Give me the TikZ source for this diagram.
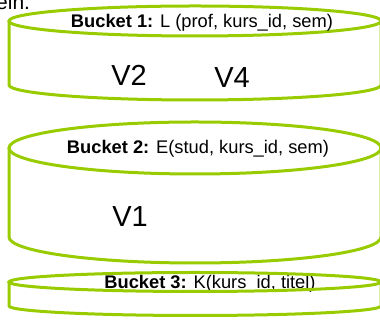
\documentclass[tikz,border=0pt]{standalone}
\usepackage{fontspec}
\setmainfont{Liberation Sans}
\definecolor{bucketgreen}{RGB}{153,204,0}
\begin{document}
\begin{tikzpicture}[x=1pt,y=1pt,
  bucket/.style={draw=bucketgreen,line width=3pt},
  title/.style={font=\fontsize{18.3}{20}\selectfont},
  view/.style={font=\fontsize{29}{32}\selectfont}]
\useasboundingbox (0,0) rectangle (380,320);
\node[anchor=base west,inner sep=0pt,font=\fontsize{21}{23}\selectfont] (ein) at (-4,310) {ein.};
% bucket 1
\draw[bucket] (195,299) ellipse [x radius=186,y radius=15];
\draw[bucket] (9,299) -- (9,235) arc[start angle=180,end angle=360,x radius=186,y radius=15] -- (381,299);
\node[title] (b1) at (202,297) {\textbf{Bucket 1:} L (prof, kurs\_id, sem)};
\node[view] (v2) at (129,245) {V2};
\node[view] (v4) at (232,242) {V4};
% bucket 2
\draw[bucket] (195,172) ellipse [x radius=186,y radius=26];
\draw[bucket] (9,172) -- (9,83) arc[start angle=180,end angle=360,x radius=186,y radius=26] -- (381,172);
\node[title] (b2) at (198,171) {\textbf{Bucket 2:} E(stud, kurs\_id, sem)};
\node[view] (v1) at (130,103) {V1};
% bucket 3
\node[title] (b3) at (210,36) {\textbf{Bucket 3:} K(kurs\_id, titel)};
\draw[bucket] (195,38) ellipse [x radius=186,y radius=9.5];
\draw[bucket] (9,38) -- (9,14) arc[start angle=180,end angle=360,x radius=186,y radius=9.5] -- (381,38);
\end{tikzpicture}
\end{document}
